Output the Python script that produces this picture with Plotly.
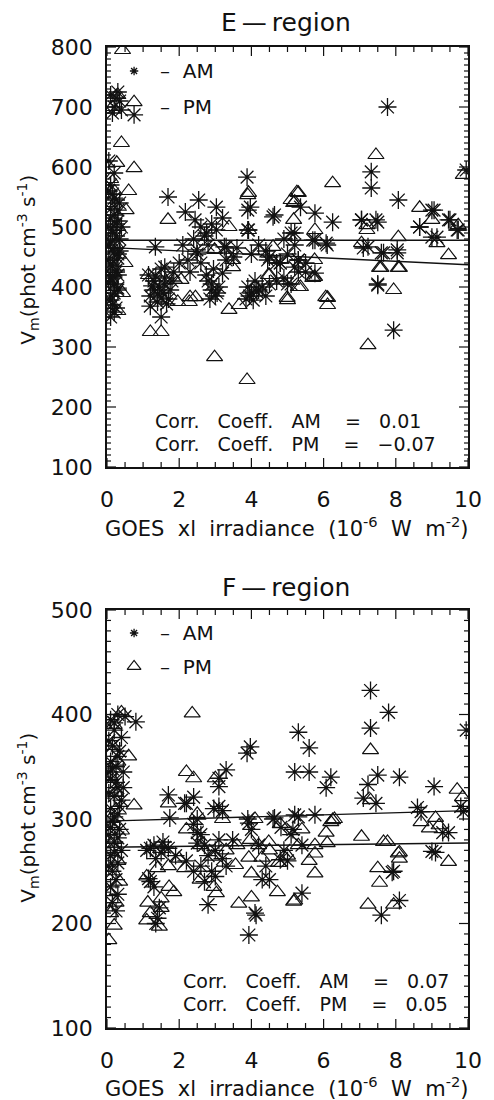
import plotly.graph_objects as go

# ---------------- E-region data ----------------
e_am_x = [0.1,0.25,0.35,0.2,0.4,0.75,0.3,0.15,0.2,0.1,0.15,0.25,0.1,0.2,0.3,0.05,0.15,0.25,0.1,0.2,0.3,0.05,0.15,0.25,0.1,0.2,0.3,0.1,0.15,0.2,0.1,0.35,0.4,0.35,0.3,0.05,
          0.05,0.2,0.3,0.1,0.25,0.15,0.35,0.05,0.2,0.3,0.1,0.25,0.15,0.05,0.3,0.2,0.1,0.25,
          1.34,1.69,2.54,3.03,2.17,2.44,3.97,4.6,5.2,5.36,5.76,6.25,6.07,5.76,7.05,7.5,7.1,7.66,8.04,8.66,9.0,9.0,9.5,9.7,9.95,3.03,3.3,3.92,4.5,4.8,5.3,5.76,2.24,1.6,7.77,7.32,7.32,8.07,3.88,7.94,7.5,1.5,
          1.15,1.3,1.45,1.6,1.75,1.2,1.4,1.55,1.85,1.3,1.7,1.5,2.0,2.3,2.6,2.5,2.8,2.7,2.9,3.2,2.6,2.1,2.4,
          1.25,1.4,1.6,1.2,1.5,1.8,1.35,1.65,
          2.8,2.9,3.0,3.1,2.75,3.2,2.95,3.3,2.85,3.05,2.9,
          3.9,4.0,4.1,4.2,3.85,4.3,4.5,4.7,4.9,5.1,5.3,5.5,4.4,4.8,5.0,5.2,4.9,4.2,4.4,3.6,3.5,4.0,3.95,4.05,4.15,
          3.9,4.64,3.9,2.49,2.76,3.25,4.45,4.7,9.06,9.46,8.66,9.14,9.73,7.05,7.45,7.23,7.6,8.04,7.5,5.1,5.7,6.1,5.3,5.2,5.5,5.0]
e_am_y = [720,715,710,700,695,687,725,690,590,570,555,545,530,520,510,500,495,485,475,465,455,445,435,425,415,405,395,385,370,358,350,540,500,460,420,610,
          560,548,528,515,505,490,480,470,458,448,438,428,418,408,398,390,378,365,
          467,550,545,533,525,512,533,517,490,533,523,508,473,478,512,508,465,457,457,500,528,483,512,495,595,495,467,495,450,440,445,423,445,433,700,592,565,545,583,328,403,350,
          420,410,400,415,395,385,375,390,425,395,380,430,440,425,440,455,470,485,505,515,500,470,480,
          402,388,405,368,382,410,418,372,
          410,395,385,400,420,423,430,445,380,390,405,
          400,390,410,395,380,400,405,410,415,405,425,440,385,440,455,470,480,470,460,465,450,455,385,378,392,
          528,520,495,462,490,467,445,440,528,512,500,483,495,512,512,467,457,462,405,490,478,470,445,433,425,405]

e_pm_x = [0.43,0.75,0.4,0.27,0.75,0.53,0.43,0.3,0.15,0.1,0.2,0.05,0.3,0.25,0.1,0.2,0.05,0.15,0.3,0.1,0.6,0.5,
          1.2,1.5,2.98,3.88,7.23,7.94,6.11,6.11,3.38,3.66,4.99,1.96,2.28,5.7,7.55,8.1,5.36,4.47,2.05,3.48,
          1.69,3.38,3.9,5.1,4.6,1.15,1.87,2.3,2.45,2.98,3.48,4.5,5.0,
          7.45,6.25,5.3,5.17,5.17,5.76,9.87,8.66,9.0,9.73,9.14,9.46,8.07,8.07,7.59,7.05,7.2,7.2,6.06,5.75,5.75,5.3,3.92,3.92,5.26,5.2]
e_pm_y = [795,708,640,607,598,528,390,720,700,580,560,540,500,470,450,430,410,400,360,370,560,440,
          325,325,283,245,303,395,382,370,362,370,382,375,375,415,432,432,400,420,412,433,
          512,500,553,545,467,420,412,383,383,462,445,420,378,
          620,573,557,540,512,495,587,532,512,503,473,453,483,432,432,473,503,495,383,445,417,400,557,495,558,542]

e_fit_x = [0, 10]
e_am_fit = [478, 478]
e_pm_fit = [466, 437]

# ---------------- F-region data ----------------
f_am_x = [0.1,0.3,0.5,0.8,0.2,0.4,0.15,0.35,0.1,0.25,0.45,0.1,0.3,0.2,0.4,0.1,0.3,0.15,0.35,0.05,0.2,0.4,0.1,0.3,0.15,0.25,0.1,0.3,0.15,0.25,0.05,0.45,
          0.2,0.05,0.3,0.15,0.25,0.05,0.35,0.2,0.1,0.3,0.2,0.05,
          7.3,7.8,7.3,5.3,5.6,5.2,5.6,6.2,6.07,7.5,8.1,7.23,9.06,9.95,3.97,3.88,3.3,3.1,3.1,1.7,2.4,2.15,7.1,7.45,8.6,9.8,
          3.93,4.13,7.6,8.1,7.94,9.0,9.3,5.4,4.5,4.8,2.8,1.15,1.2,1.4,1.6,1.74,2.2,2.5,2.5,2.96,3.1,3.2,3.93,4.64,4.82,5.2,5.3,5.15,5.76,3.48,8.7,9.87,
          1.1,1.3,1.5,1.7,1.9,1.35,1.55,1.2,1.3,1.45,1.35,
          2.4,2.5,2.6,2.7,2.8,2.6,2.9,3.0,3.2,3.1,2.2,2.4,3.3,3.0,2.7,
          4.0,4.2,4.4,3.9,4.6,4.9,5.1,5.4,5.0,4.3,4.1,9.1,9.46,7.9]
f_am_y = [395,400,398,393,385,378,370,365,355,350,345,338,330,322,318,310,305,298,290,285,278,270,265,258,250,242,235,228,220,212,345,330,
          392,375,360,348,335,325,312,302,292,282,268,255,
          423,402,387,383,368,345,345,340,330,342,340,333,331,385,369,363,347,339,331,323,321,315,320,315,311,312,
          189,208,208,222,250,269,287,229,242,261,218,243,272,205,273,301,315,287,277,310,312,308,296,301,292,304,302,290,304,280,307,307,
          270,275,268,272,265,262,278,240,235,215,200,
          295,300,285,275,265,255,250,270,262,280,260,250,255,245,240,
          290,275,255,300,300,270,285,275,260,242,210,268,287,249]

f_pm_x = [0.4,0.2,0.15,0.3,0.1,0.25,0.4,0.2,0.1,0.3,0.15,0.35,0.05,0.25,0.1,0.2,0.05,0.75,0.6,0.1,
          2.36,7.3,2.2,2.4,3.0,1.7,9.7,9.85,7.3,9.1,
          7.05,7.66,6.2,6.07,5.76,5.76,4.72,3.65,4.0,5.2,7.23,7.5,7.55,7.94,8.1,8.1,8.7,8.93,9.46,4.75,4.48,3.97,3.93,4.29,4.0,3.56,1.85,1.72,1.13,1.5,1.1,1.45,1.4,2.96,3.03,2.58,2.15,2.9,
          1.2,1.5,2.0,2.6,3.3,3.6,4.2,4.5,5.0,5.3,5.6,2.2,2.5,3.2,4.1,4.8,5.4,6.3,1.1,1.7,
          6.25,6.1,5.76,7.77,8.07,9.2,5.17]
f_pm_y = [402,390,370,355,340,325,289,280,270,260,250,240,230,220,210,198,184,313,360,300,
          401,366,345,339,339,315,328,321,318,301,
          283,278,297,287,267,248,230,219,225,222,218,253,239,218,268,262,297,291,259,258,278,280,263,263,248,256,230,235,220,224,203,197,253,235,229,242,253,264,
          210,215,262,275,270,275,275,270,265,275,260,290,305,300,300,295,290,300,245,255,
          299,277,275,278,267,294,221]

f_fit_x = [0, 10]
f_am_fit = [298, 308]
f_pm_fit = [273, 277]

# tick values
x_major = [0, 2, 4, 6, 8, 10]
x_minor = [v / 2 for v in range(0, 21) if v % 4 != 0]
e_y_major = [100, 200, 300, 400, 500, 600, 700, 800]
e_y_minor = [v for v in range(100, 801, 10) if v % 100 != 0]
f_y_major = [100, 200, 300, 400, 500]
f_y_minor = [v for v in range(100, 501, 10) if v % 100 != 0]

NB = "\u00a0"
e_corr = ["Corr." + NB*3 + "Coeff." + NB*3 + "AM" + NB*4 + "=" + NB*3 + "0.01",
          "Corr." + NB*3 + "Coeff." + NB*3 + "PM" + NB*4 + "=" + NB*3 + "−0.07"]
f_corr = ["Corr." + NB*3 + "Coeff." + NB*3 + "AM" + NB*4 + "=" + NB*3 + "0.07",
          "Corr." + NB*3 + "Coeff." + NB*3 + "PM" + NB*4 + "=" + NB*3 + "0.05"]

INK = "#111111"
FONT = "DejaVu Sans"

fig = go.Figure()

def add_panel(xa, ya, amx, amy, pmx, pmy, fitx, amfit, pmfit):
    fig.add_trace(go.Scatter(x=pmx, y=pmy, mode="markers", xaxis=xa, yaxis=ya,
                             marker=dict(symbol="triangle-up-open", size=14, color=INK, line=dict(width=1.2, color=INK)),
                             showlegend=False))
    fig.add_trace(go.Scatter(x=amx, y=amy, mode="markers", xaxis=xa, yaxis=ya,
                             marker=dict(symbol="asterisk-open", size=15, color=INK, line=dict(width=1.3, color=INK)),
                             showlegend=False))
    fig.add_trace(go.Scatter(x=fitx, y=amfit, mode="lines", xaxis=xa, yaxis=ya,
                             line=dict(color=INK, width=1.4), showlegend=False))
    fig.add_trace(go.Scatter(x=fitx, y=pmfit, mode="lines", xaxis=xa, yaxis=ya,
                             line=dict(color=INK, width=1.4), showlegend=False))

add_panel("x", "y", e_am_x, e_am_y, e_pm_x, e_pm_y, e_fit_x, e_am_fit, e_pm_fit)
add_panel("x2", "y2", f_am_x, f_am_y, f_pm_x, f_pm_y, f_fit_x, f_am_fit, f_pm_fit)

# legend glyphs
fig.add_trace(go.Scatter(x=[0.75], y=[760], mode="markers", xaxis="x", yaxis="y",
                         marker=dict(symbol="asterisk-open", size=7, color=INK, line=dict(width=1.3, color=INK)), showlegend=False))
fig.add_trace(go.Scatter(x=[0.75], y=[478], mode="markers", xaxis="x2", yaxis="y2",
                         marker=dict(symbol="asterisk-open", size=7, color=INK, line=dict(width=1.3, color=INK)), showlegend=False))
fig.add_trace(go.Scatter(x=[0.75], y=[446], mode="markers", xaxis="x2", yaxis="y2",
                         marker=dict(symbol="triangle-up-open", size=12, color=INK, line=dict(width=1.2, color=INK)), showlegend=False))

def xax(anchor):
    return dict(range=[0, 10], tickmode="array", tickvals=x_major, ticks="",
                showline=True, linecolor=INK, linewidth=1.6, mirror=True, showgrid=False, zeroline=False,
                anchor=anchor, domain=[0, 1], ticklabelstandoff=12,
                tickfont=dict(family=FONT, size=22, color=INK))

def yax(anchor, rng, domain, vals):
    return dict(range=rng, tickmode="array", tickvals=vals, ticks="",
                showline=True, linecolor=INK, linewidth=1.6, mirror=True, showgrid=False, zeroline=False,
                anchor=anchor, domain=domain, ticklabelstandoff=8,
                tickfont=dict(family=FONT, size=22, color=INK))

# axis tick marks drawn as pixel-sized shapes anchored to the axes' own scales
shapes = []
def xticks(xa, ya, vals, L):
    for v in vals:
        for anc, sgn in ((0, 1), (1, -1)):
            shapes.append(dict(type="line", xref=xa, yref=ya + " domain", x0=v, x1=v,
                               ysizemode="pixel", yanchor=anc, y0=0, y1=sgn * L,
                               line=dict(color=INK, width=1.2)))
def yticks(xa, ya, vals, L):
    for v in vals:
        for anc, sgn in ((0, 1), (1, -1)):
            shapes.append(dict(type="line", xref=xa + " domain", yref=ya, y0=v, y1=v,
                               xsizemode="pixel", xanchor=anc, x0=0, x1=sgn * L,
                               line=dict(color=INK, width=1.2)))

for xa, ya in (("x", "y"), ("x2", "y2")):
    xticks(xa, ya, x_major, 9)
    xticks(xa, ya, x_minor, 5)
yticks("x", "y", e_y_major, 9)
yticks("x", "y", e_y_minor, 4)
yticks("x2", "y2", f_y_major, 9)
yticks("x2", "y2", f_y_minor, 4)

H = 981.0
def py(p):
    return (1028 - p) / H
def px(p):
    return (p - 107) / 373.0

ytitle = "V<sub>m</sub>(phot" + NB + "cm<sup>-3</sup>" + NB + "s<sup>-1</sup>)"
xtitle = "GOES" + NB*2 + "xl" + NB*2 + "irradiance" + NB*2 + "(10<sup>-6</sup>" + NB*2 + "W" + NB*2 + "m<sup>-2</sup>)"

ann = []
def A(text, x, y, size, xanchor="center", angle=0):
    ann.append(dict(text=text, x=x, y=y, xref="paper", yref="paper", showarrow=False,
                    xanchor=xanchor, yanchor="middle", textangle=angle,
                    font=dict(family=FONT, size=size, color=INK)))

title_e = "E" + "\u2009—\u2009" + "region"
title_f = "F" + "\u2009—\u2009" + "region"
A(title_e, px(292), py(22), 25)
A(title_f, px(292), py(587), 25)
A(xtitle, px(292), py(527), 21)
A(xtitle, px(292), py(1087), 21)
A(ytitle, px(25), py(260), 20, angle=-90)
A(ytitle, px(25), py(818), 20, angle=-90)
A("–" + NB*2 + "AM", px(160), py(71), 20, xanchor="left")
A("–" + NB*2 + "PM", px(160), py(107), 20, xanchor="left")
A("–" + NB*2 + "AM", px(160), py(633), 20, xanchor="left")
A("–" + NB*2 + "PM", px(160), py(667), 20, xanchor="left")
A(e_corr[0], px(155), py(421), 19, xanchor="left")
A(e_corr[1], px(155), py(444), 19, xanchor="left")
A(f_corr[0], px(183), py(981), 19, xanchor="left")
A(f_corr[1], px(183), py(1004), 19, xanchor="left")

fig.update_layout(
    width=494, height=1100,
    margin=dict(l=107, r=14, t=47, b=72),
    paper_bgcolor="white", plot_bgcolor="white",
    xaxis=xax("y"), yaxis=yax("x", [100, 800], [py(467), 1], e_y_major),
    xaxis2=xax("y2"), yaxis2=yax("x2", [100, 500], [0, py(610)], f_y_major),
    annotations=ann, shapes=shapes,
    showlegend=False,
)

fig.write_html("out.html")
